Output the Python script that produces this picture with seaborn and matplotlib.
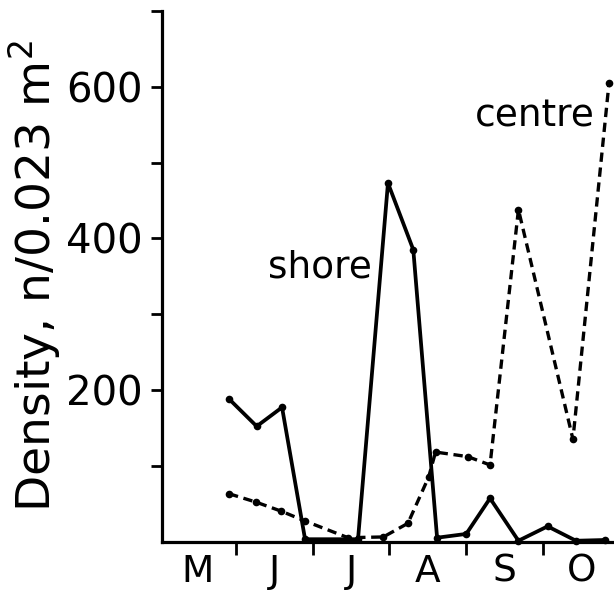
import numpy as np
import matplotlib
matplotlib.use('Agg')
import matplotlib.pyplot as plt
import seaborn as sns

# time in months from start of May
shore_t = [0.91, 1.27, 1.60, 1.90, 2.59, 2.98, 3.31, 3.62, 4.00, 4.31, 4.68, 5.06, 5.43, 5.81]
shore_n = [188, 152, 177, 3, 3, 473, 385, 5, 10, 57, 1, 20, 1, 2]

centre_t = [0.91, 1.26, 1.59, 1.90, 2.46, 2.92, 3.24, 3.51, 3.60, 4.02, 4.31, 4.68, 5.39, 5.86]
centre_n = [63, 52, 40, 27, 5, 6, 24, 85, 118, 112, 101, 438, 135, 605]

months = ['M', 'J', 'J', 'A', 'S', 'O']

sns.set_style('ticks', {'axes.edgecolor': 'black', 'text.color': 'black',
                        'axes.labelcolor': 'black', 'xtick.color': 'black',
                        'ytick.color': 'black'})
plt.rcParams['font.family'] = ['DejaVu Sans']
plt.rcParams['mathtext.default'] = 'regular'

fig = plt.figure(figsize=(6.14, 5.91), dpi=100)
ax = fig.add_axes([162/614, 49.5/591, 452/614, 530.5/591])

sns.lineplot(x=shore_t, y=shore_n, ax=ax, color='black', lw=2.7,
             marker='o', markersize=5.5, markeredgewidth=0, clip_on=False)
sns.lineplot(x=centre_t, y=centre_n, ax=ax, color='black', lw=2.4,
             marker='o', markersize=5.5, markeredgewidth=0, clip_on=False)
ax.lines[-1].set_dashes([2.8, 1.7])

ax.set_xlim(0.036, 5.925)
ax.set_ylim(0, 700)

sns.despine(ax=ax)
for sp in ['left', 'bottom']:
    ax.spines[sp].set_linewidth(2.3)

ax.set_yticks(np.arange(100, 701, 100))
ax.set_yticklabels(['', '200', '', '400', '', '600', ''])
ax.tick_params(axis='y', direction='out', length=8, width=2, labelsize=29, pad=6)

ax.set_xticks(np.arange(1, 6))
ax.set_xticklabels([])
ax.set_xticks(np.arange(0.5, 6, 1), minor=True)
ax.set_xticklabels(months, minor=True)
ax.tick_params(axis='x', which='major', direction='out', length=9, width=2)
ax.tick_params(axis='x', which='minor', length=0, labelsize=27, pad=9)

ax.set_ylabel('Density, n/0.023 m$^2$', fontsize=34, labelpad=2)

ax.text(2.77, 349, 'shore', fontsize=27, ha='right', va='baseline')
ax.text(5.675, 547, 'centre', fontsize=27, ha='right', va='baseline')

plt.savefig('out.png', dpi=100)
